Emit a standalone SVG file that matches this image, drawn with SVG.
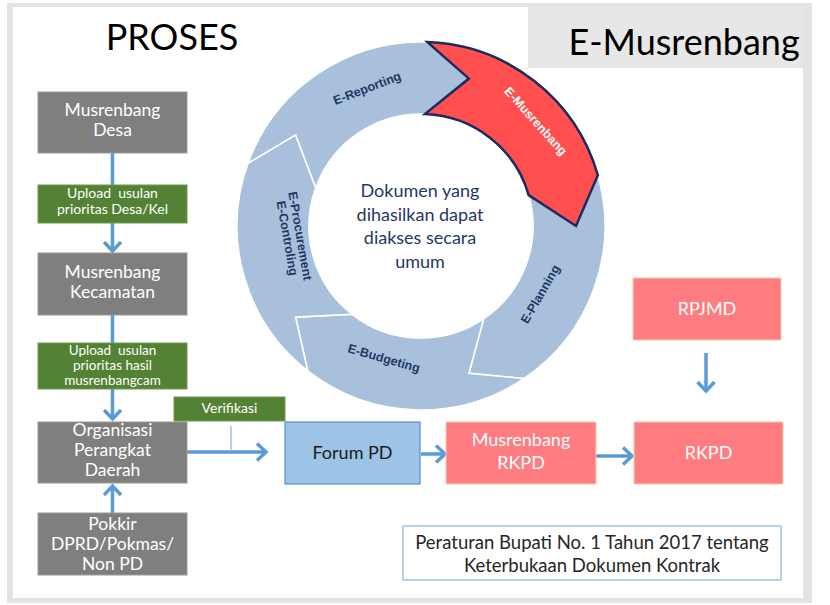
<svg xmlns="http://www.w3.org/2000/svg" width="830" height="605" viewBox="0 0 830 605">
<defs>
<style>
.t{font-family:Lato,"Open Sans","Liberation Sans",sans-serif;text-anchor:middle}
.w{fill:#ffffff}
.gray{fill:#7f7f7f;stroke:#9a9a9a;stroke-width:1}
.green{fill:#548235;stroke:#6f9a50;stroke-width:1}
.pink{fill:#ff7c80;stroke:#f8cbad;stroke-width:1}
.seg{fill:#a8c0dc;stroke:#ffffff;stroke-width:1.6}
.lbl{font-family:"Liberation Sans",Arial,sans-serif;font-weight:bold;font-size:12.5px;fill:#1f3864;text-anchor:middle}
.con{stroke:#5b9bd5;stroke-width:3.5;fill:none}
.pre{white-space:pre}
</style>
<marker id="arr" viewBox="0 0 20 20" refX="16" refY="10" markerWidth="20" markerHeight="20" markerUnits="userSpaceOnUse" orient="auto">
<path d="M7,1.5 L16,10 L7,18.5" fill="none" stroke="#5b9bd5" stroke-width="3.5"/>
</marker>
</defs>

<rect x="7" y="3" width="805" height="600" fill="#e3e3e3"/>
<rect x="13" y="7" width="790" height="591" fill="#ffffff"/>

<g id="header-left">
<text class="t" x="172" y="50" font-size="36" fill="#000">PROSES</text>
</g>
<g id="header-right">
<rect x="528" y="7" width="275" height="61" fill="#e7e7e7"/>
<text class="t" x="684" y="55" font-size="36" fill="#000">E-Musrenbang</text>
</g>

<g id="cycle">
<g id="seg-planning">
<path class="seg" d="M597.87,175.28 A184,184 0 0 1 523.89,378.54 L468.90,373.41 L483.63,318.85 A112,112 0 0 0 528.66,195.13 L576,226 Z"/>
<text class="lbl" transform="translate(540,294) rotate(-60)" y="4.5">E-Planning</text>
</g>
<g id="seg-budgeting">
<path class="seg" d="M523.89,378.54 A184,184 0 0 1 307.72,370.99 L295.60,317.11 L352.05,314.26 A112,112 0 0 0 483.63,318.85 L468.90,373.41 Z"/>
<text class="lbl" transform="translate(384,358) rotate(16)" y="4.5">E-Budgeting</text>
</g>
<g id="seg-procurement">
<path class="seg" d="M307.72,370.99 A184,184 0 0 1 248.10,163.07 L295.60,134.89 L315.76,187.69 A112,112 0 0 0 352.05,314.26 L295.60,317.11 Z"/>
<text class="lbl" transform="translate(294,237) rotate(80)"><tspan x="0" y="-2">E-Procurement</tspan><tspan x="0" y="11">E-Controling</tspan></text>
</g>
<g id="seg-reporting">
<path class="seg" d="M248.10,163.07 A184,184 0 0 1 427.42,42.11 L468.90,78.59 L424.91,114.07 A112,112 0 0 0 315.76,187.69 L295.60,134.89 Z"/>
<text class="lbl" transform="translate(367,88) rotate(-21)" y="4.5">E-Reporting</text>
</g>
<g id="seg-musrenbang">
<path d="M427.42,42.11 A184,184 0 0 1 597.87,175.28 L576,226 L528.66,195.13 A112,112 0 0 0 424.91,114.07 L468.90,78.59 Z" fill="#ff4f4f" stroke="#1a2b5e" stroke-width="2.5" stroke-linejoin="miter"/>
<text class="lbl" transform="translate(536,121) rotate(48)" y="4.5" style="fill:#ffffff">E-Musrenbang</text>
</g>
<g id="center-text">
<text class="t" font-size="18" fill="#1f3864"><tspan x="420" y="197">Dokumen yang</tspan><tspan x="420" y="221">dihasilkan dapat</tspan><tspan x="420" y="244">diakses secara</tspan><tspan x="420" y="268">umum</tspan></text>
</g>
</g>

<g id="connectors">
<line class="con" x1="112.5" y1="153" x2="112.5" y2="185"/>
<line class="con" x1="112.5" y1="223" x2="112.5" y2="251" marker-end="url(#arr)"/>
<line class="con" x1="112.5" y1="315" x2="112.5" y2="343"/>
<line class="con" x1="112.5" y1="389" x2="112.5" y2="419" marker-end="url(#arr)"/>
<line class="con" x1="112.5" y1="513" x2="112.5" y2="486" marker-end="url(#arr)"/>
<line class="con" x1="187" y1="452" x2="266" y2="452" marker-end="url(#arr)"/>
<line x1="231" y1="426" x2="231" y2="451" stroke="#9dc3e6" stroke-width="1.5"/>
<line class="con" x1="421" y1="454" x2="445" y2="454" marker-end="url(#arr)"/>
<line class="con" x1="596" y1="456" x2="632" y2="456" marker-end="url(#arr)"/>
<line class="con" x1="706" y1="353" x2="706" y2="391" marker-end="url(#arr)"/>
</g>

<g id="musrenbang-desa">
<rect class="gray" x="38" y="92" width="149" height="61"/>
<text class="t w" font-size="17.5"><tspan x="112.5" y="116">Musrenbang</tspan><tspan x="112.5" y="136">Desa</tspan></text>
</g>
<g id="upload-desa">
<rect class="green" x="38" y="185" width="149" height="38"/>
<text class="t w pre" font-size="14" xml:space="preserve"><tspan x="112.5" y="198">Upload  usulan</tspan><tspan x="112.5" y="214">prioritas Desa/Kel</tspan></text>
</g>
<g id="musrenbang-kecamatan">
<rect class="gray" x="38" y="253" width="149" height="62"/>
<text class="t w" font-size="17.5"><tspan x="112.5" y="278">Musrenbang</tspan><tspan x="112.5" y="298">Kecamatan</tspan></text>
</g>
<g id="upload-kecamatan">
<rect class="green" x="38" y="343" width="149" height="46"/>
<text class="t w pre" font-size="13.5" xml:space="preserve"><tspan x="112.5" y="355">Upload  usulan</tspan><tspan x="112.5" y="370">prioritas hasil</tspan><tspan x="112.5" y="385">musrenbangcam</tspan></text>
</g>
<g id="opd">
<rect class="gray" x="38" y="422" width="149" height="61"/>
<text class="t w" font-size="17.5"><tspan x="112.5" y="436">Organisasi</tspan><tspan x="112.5" y="456">Perangkat</tspan><tspan x="112.5" y="476">Daerah</tspan></text>
</g>
<g id="pokkir">
<rect class="gray" x="38" y="513" width="149" height="62"/>
<text class="t w" font-size="17.5"><tspan x="112.5" y="530">Pokkir</tspan><tspan x="112.5" y="550">DPRD/Pokmas/</tspan><tspan x="112.5" y="570">Non PD</tspan></text>
</g>
<g id="verifikasi">
<rect class="green" x="174" y="397" width="111" height="24"/>
<text class="t w" font-size="14" x="229.5" y="413">Verifikasi</text>
</g>
<g id="forum-pd">
<rect x="285" y="422" width="135" height="62" fill="#9dc3e6" stroke="#5b8fc7" stroke-width="1.2"/>
<text class="t" font-size="18" fill="#1a1a1a" x="352.5" y="459">Forum PD</text>
</g>
<g id="musrenbang-rkpd">
<rect class="pink" x="446" y="422" width="150" height="62"/>
<text class="t w" font-size="18"><tspan x="521" y="446">Musrenbang</tspan><tspan x="521" y="469">RKPD</tspan></text>
</g>
<g id="rkpd">
<rect class="pink" x="634" y="422" width="149" height="62"/>
<text class="t w" font-size="18" x="708.5" y="459">RKPD</text>
</g>
<g id="rpjmd">
<rect class="pink" x="633" y="278" width="148" height="62"/>
<text class="t w" font-size="18" x="707" y="315">RPJMD</text>
</g>
<g id="note">
<rect x="403" y="526" width="378" height="54" fill="#ffffff" stroke="#9dc3e6" stroke-width="1.5"/>
<text class="t" font-size="18.5" fill="#262626"><tspan x="592" y="549">Peraturan Bupati No. 1 Tahun 2017 tentang</tspan><tspan x="592" y="572">Keterbukaan Dokumen Kontrak</tspan></text>
</g>
</svg>
